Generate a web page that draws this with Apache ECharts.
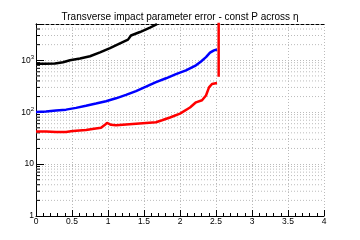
<!DOCTYPE html>
<html><head><meta charset="utf-8">
<script src="https://cdn.jsdelivr.net/npm/echarts@6/dist/echarts.min.js"></script>
<style>html,body{margin:0;padding:0;background:#fff}#c{width:360px;height:240px}</style>
</head><body><div id="c"></div>
<script>
const titleText = 'Transverse impact parameter error - const P across \u03b7';
const blackX = [0.000,0.125,0.264,0.375,0.472,0.611,0.750,0.889,1.028,1.167,1.278,1.319,1.444,1.583,1.680];
const blackY = [860,860,870,915,1000,1080,1195,1420,1720,2120,2500,3000,3500,4250,4950];
const blueX = [0.000,0.139,0.278,0.417,0.556,0.694,0.833,0.972,1.111,1.250,1.389,1.528,1.667,1.806,1.944,2.083,2.222,2.292,2.361,2.417,2.472,2.514];
const blueY = [101,103,108,112,121,133,147,163,185,215,255,310,380,450,540,640,800,950,1150,1400,1550,1610];
const redX = [0.000,0.139,0.278,0.417,0.486,0.556,0.694,0.806,0.903,0.958,0.986,1.042,1.111,1.250,1.389,1.528,1.667,1.750,1.861,2.000,2.139,2.222,2.306,2.361,2.403,2.444,2.514];
const redY = [42.5,42.5,41.5,41.5,43,44,45.5,48,50,57,62,57,56,58,60,62,64,70,79,94,123,155,170,210,300,350,366];
const spikeX = [2.537,2.537];
const spikeY = [480,6000];
const yMajorValues = [1,10,100,1000];
const yMajorLabels = ['1','10','{b|10}{s|2}','{b|10}{s|3}'];
const xMin = 0, xMax = 4, xInterval = 0.5;
const yMin = 1, yMax = 5000;

const zip = (xs, ys) => xs.map((x,i)=>[x, ys[i]]);
const minorVals = [];
for (let k = 0; k < 4; k++) for (let m = 2; m <= 9; m++) { const v = m*Math.pow(10,k); if (v < yMax) minorVals.push([0, v]); }

const FONT = 'Liberation Sans';
const chart = echarts.init(document.getElementById('c'), null, {renderer:'canvas'});
chart.setOption({
  animation:false,
  title:{text:titleText,left:'center',top:7,textStyle:{fontFamily:FONT,fontSize:10,fontWeight:'normal',color:'#000'}},
  grid:{left:36,right:36,top:24,bottom:24,containLabel:false},
  xAxis:[{type:'value',min:xMin,max:xMax,interval:xInterval,
    axisLine:{lineStyle:{color:'#000',width:1}},
    axisTick:{inside:true,length:6,lineStyle:{color:'#000'}},
    minorTick:{show:true,splitNumber:5,length:3,lineStyle:{color:'#000'}},
    axisLabel:{margin:1,fontFamily:FONT,fontSize:8.5,color:'#000',formatter:v=>String(+v.toFixed(2))},
    splitLine:{show:true,lineStyle:{color:'#bbb',type:[1,2],width:1}}},
   {type:'value',position:'top',min:xMin,max:xMax,axisLine:{show:true,lineStyle:{color:'#000',type:[3,2]}},axisTick:{show:false},axisLabel:{show:false},splitLine:{show:false}}],
  yAxis:[{type:'log',logBase:10,min:yMin,max:yMax,splitNumber:4,
    axisLine:{show:true,lineStyle:{color:'#000',width:1}},
    axisTick:{inside:true,length:8,lineStyle:{color:'#000'}},
    axisLabel:{margin:2,fontFamily:FONT,fontSize:8.5,color:'#000',
      formatter:v=>{const i=yMajorValues.findIndex(m=>Math.abs(v-m)/m<1e-6);return i>=0?yMajorLabels[i]:'';},
      rich:{b:{fontFamily:FONT,fontSize:8.5,color:'#000'},s:{fontFamily:FONT,fontSize:6,color:'#000',verticalAlign:'top',padding:[0,0,5,0]}}},
    splitLine:{show:true,lineStyle:{color:'#bbb',type:[1,2],width:1}}},
   {type:'log',logBase:10,position:'right',min:yMin,max:yMax,axisLine:{show:true,lineStyle:{color:'#000',type:[3,2]}},axisTick:{show:false},axisLabel:{show:false},splitLine:{show:false}}],
  series:[
    {type:'custom',xAxisIndex:0,yAxisIndex:0,silent:true,clip:false,z:1,data:minorVals,
     renderItem:(params,api)=>{const v=api.value(1);const p=api.coord([xMin,v]);const q=api.coord([xMax,v]);
       return {type:'group',children:[
         {type:'line',shape:{x1:p[0],y1:p[1],x2:q[0],y2:q[1]},style:{stroke:'#bbb',lineWidth:1,lineDash:[1,2]}},
         {type:'line',shape:{x1:p[0],y1:p[1],x2:p[0]+4,y2:p[1]},style:{stroke:'#000',lineWidth:1}}]};}},
    {type:'line',data:zip(blackX,blackY),showSymbol:false,lineStyle:{color:'#000',width:2.5},z:3},
    {type:'line',data:zip(blueX,blueY),showSymbol:false,lineStyle:{color:'#0000ff',width:2.5},z:3},
    {type:'line',data:zip(redX,redY),showSymbol:false,lineStyle:{color:'#ff0000',width:2.5},z:3},
    {type:'line',data:zip(spikeX,spikeY),showSymbol:false,lineStyle:{color:'#ff0000',width:2.5},z:3}
  ]
});
</script></body></html>
